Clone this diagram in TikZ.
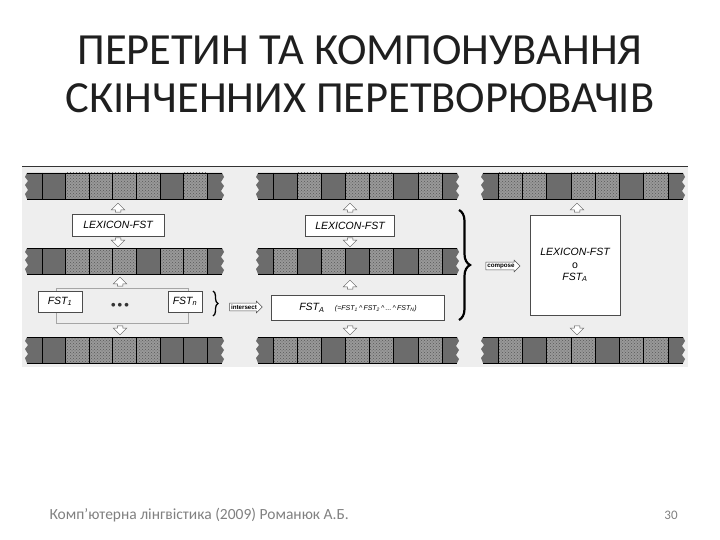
\documentclass[tikz,border=0pt]{standalone}
\usepackage{fontspec}
\setmainfont{Carlito}
\newfontfamily\diag{Liberation Sans}
\usetikzlibrary{shapes.arrows,decorations.pathreplacing,patterns}
\definecolor{tapedark}{HTML}{6C6C6C}
\definecolor{tapelight}{HTML}{999999}
\definecolor{photobg}{HTML}{EEEEEE}
\definecolor{footgray}{HTML}{808080}
\newcommand\tapestrip[4]{%
  \pgfmathsetmacro\tw{(#2-#1-30)/7}
  \fill[tapedark] (#1,#3) -- ({#1-2},{#3+4}) -- ({#1+1},{#3+8}) -- ({#1-2},{#3+12}) -- ({#1+1},{#3+17}) -- ({#1-2},{#3+21}) -- (#1,{#3+26})
     -- (#2,{#3+26}) -- ({#2+2},{#3+22}) -- ({#2-1},{#3+18}) -- ({#2+2},{#3+13}) -- ({#2-1},{#3+9}) -- ({#2+2},{#3+4}) -- (#2,#3) -- cycle;
  \foreach \k in {#4} {
    \fill[tapelight] ({#1+15+(\k-1)*\tw},#3) rectangle ({#1+15+\k*\tw},{#3+26});
    \fill[pattern=crosshatch dots, pattern color=black!65] ({#1+15+(\k-1)*\tw},#3) rectangle ({#1+15+\k*\tw},{#3+26});
  }
  \foreach \k in {0,...,7} {
    \draw[black, line width=0.7pt] ({#1+15+\k*\tw},#3) -- ({#1+15+\k*\tw},{#3+26});
  }
  \draw[black, line width=0.9pt] (#1,#3) -- (#2,#3) (#1,{#3+26}) -- (#2,{#3+26});
}
\tikzset{
  fstbox/.style={draw=black!70, fill=white, line width=0.6pt, font=\diag\itshape\fontsize{10.5}{12}\selectfont, inner sep=1pt},
  uparr/.style={single arrow, draw=black!65, fill=white, line width=0.5pt, inner sep=2.5pt, minimum height=9pt, single arrow head extend=4pt, shape border rotate=90},
  downarr/.style={uparr, shape border rotate=270},
  oparr/.style={single arrow, draw=black!70, fill=white, line width=0.5pt, inner sep=1.3pt, single arrow head extend=2pt, font=\diag\bfseries\fontsize{6.2}{7}\selectfont},
}
\begin{document}
\begin{tikzpicture}[x=1pt,y=-1pt]
\useasboundingbox (0,0) rectangle (720,540);
% titles
\node[font=\fontsize{44.5}{48}\selectfont, text=black!88] (t1) at (360,50) {ПЕРЕТИН ТА КОМПОНУВАННЯ};
\node[font=\fontsize{44.5}{48}\selectfont, text=black!88] (t2) at (360,98) {СКІНЧЕННИХ ПЕРЕТВОРЮВАЧІВ};
% photo background
\fill[photobg] (22,166) rectangle (688,367);
\draw[black!80, line width=1pt] (22,167) -- (688,167);
% tapes
\tapestrip{27}{222}{173}{2,3,4,5,7}
\tapestrip{27}{222}{248}{2,3,4,6,7}
\tapestrip{27}{222}{337}{2,3,4,5}
\tapestrip{258}{457}{173}{2,4,5,7}
\tapestrip{258}{457}{248}{1,3,5,7}
\tapestrip{258}{457}{337}{1,2,4,5,7}
\tapestrip{483}{683}{173}{1,2,4,5,7}
\tapestrip{483}{683}{337}{1,3,4,6,7}
% column 1
\node[fstbox, minimum width=92pt, minimum height=22pt] (lex1) at (118,225) {LEXICON-FST};
\node[uparr] (lex1up) at (118,209) {};
\node[downarr] (lex1dn) at (118,241) {};
\draw[black!35, line width=0.5pt] (56,288) rectangle (188,323);
\node[fstbox, minimum width=44pt, minimum height=21pt] (fst1) at (60,301.5) {FST\textsubscript{1}};
\node[fstbox, minimum width=34pt, minimum height=21pt] (fstn) at (185,301.5) {FST\textsubscript{n}};
\node[font=\diag\bfseries\fontsize{13}{14}\selectfont, text=black!80] (dots) at (120,306) {•\,•\,•};
\node[uparr] (fstup) at (120,283) {};
\node[downarr] (fstdn) at (120,329) {};
\draw[decorate, decoration={brace, amplitude=5pt}, line width=1.3pt] (213,291) -- (213,316);
\node[oparr] (inter) at (244,307) {intersect};
% column 2
\node[fstbox, minimum width=89pt, minimum height=21pt] (lex2) at (350,225.5) {LEXICON-FST};
\node[uparr] (lex2up) at (350,209) {};
\node[downarr] (lex2dn) at (350,241) {};
\node[fstbox, minimum width=173pt, minimum height=25pt] (fsta) at (358,308) {FST\textsubscript{A}\quad{\fontsize{7}{8}\selectfont(=FST\textsubscript{1}\,\textasciicircum\,FST\textsubscript{2}\,\textasciicircum\,...\,\textasciicircum\,FST\textsubscript{N})}};
\node[uparr] (fstaup) at (350,286) {};
\node[downarr] (fstadn) at (350,329) {};
\draw[decorate, decoration={brace, amplitude=11pt}, line width=2.2pt] (459,210) -- (459,320);
\node[oparr] (comp) at (501,266) {compose};
% column 3
\node[fstbox, minimum width=90pt, minimum height=100pt, align=center] (res) at (575,265) {LEXICON-FST\\[1pt]{\upshape o}\\[0pt]FST\textsubscript{A}};
\node[uparr] (resup) at (577,209) {};
\node[downarr] (resdn) at (577,329) {};
% footer
\node[anchor=west, text=footgray, font=\fontsize{15.5}{17}\selectfont] (foot) at (46,515) {Комп'ютерна лінгвістика (2009) Романюк А.Б.};
\node[text=footgray, font=\fontsize{13}{15}\selectfont] (num) at (671,515) {30};
\end{tikzpicture}
\end{document}
